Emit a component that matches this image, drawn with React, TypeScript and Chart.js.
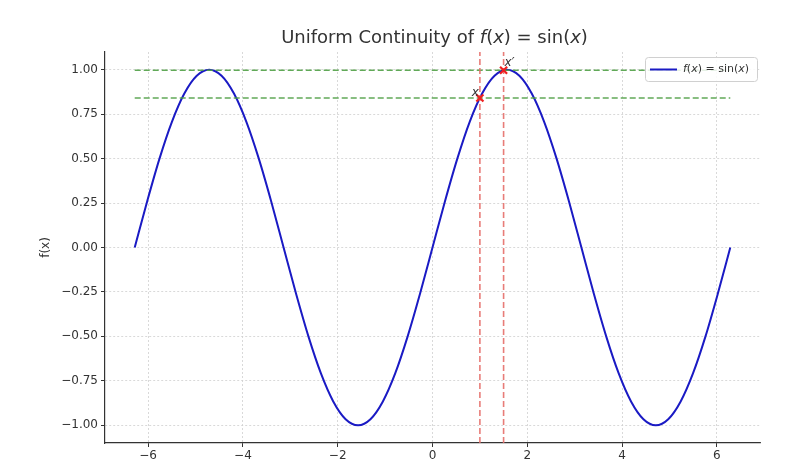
import React, { useEffect, useRef } from "react";
import { Chart, registerables } from "chart.js";

Chart.register(...registerables);

const xValues = [
  -6.283, -6.021, -5.760, -5.498, -5.236, -4.974, -4.712, -4.451, -4.189, -3.927, -3.665, -3.403,
  -3.142, -2.880, -2.618, -2.356, -2.094, -1.833, -1.571, -1.309, -1.047, -0.785, -0.524, -0.262,
  0.0,
  0.262, 0.524, 0.785, 1.047, 1.309, 1.571, 1.833, 2.094, 2.356, 2.618, 2.880, 3.142,
  3.403, 3.665, 3.927, 4.189, 4.451, 4.712, 4.974, 5.236, 5.498, 5.760, 6.021, 6.283,
];
const sineValues = [
  0.0, 0.259, 0.5, 0.707, 0.866, 0.966, 1.0, 0.966, 0.866, 0.707, 0.5, 0.259,
  0.0, -0.259, -0.5, -0.707, -0.866, -0.966, -1.0, -0.966, -0.866, -0.707, -0.5, -0.259,
  0.0,
  0.259, 0.5, 0.707, 0.866, 0.966, 1.0, 0.966, 0.866, 0.707, 0.5, 0.259, 0.0,
  -0.259, -0.5, -0.707, -0.866, -0.966, -1.0, -0.966, -0.866, -0.707, -0.5, -0.259, 0.0,
];
const markedX = [1.0, 1.5];
const markedY = [0.841, 0.997];
const markedLabels = ["x", "x′"];
const hLineSpan = [-6.283, 6.283];
const xTickValues = [-6, -4, -2, 0, 2, 4, 6];
const yTickValues = [-1, -0.75, -0.5, -0.25, 0, 0.25, 0.5, 0.75, 1];
const xRange = [-6.91, 6.91];
const yRange = [-1.1, 1.1];

const FONT = "'DejaVu Sans', sans-serif";
const minus = (s: string) => s.replace("-", "\u2212");

function drawMixed(ctx: CanvasRenderingContext2D, parts: [string, boolean][], size: number, cx: number, cy: number, align: "center" | "left") {
  ctx.save();
  ctx.textBaseline = "middle";
  ctx.textAlign = "left";
  const fontFor = (it: boolean) => `${it ? "italic " : ""}${size}px ${FONT}`;
  let total = 0;
  for (const [t, it] of parts) {
    ctx.font = fontFor(it);
    total += ctx.measureText(t).width;
  }
  let x = align === "center" ? cx - total / 2 : cx;
  for (const [t, it] of parts) {
    ctx.font = fontFor(it);
    ctx.fillText(t, x, cy);
    x += ctx.measureText(t).width;
  }
  ctx.restore();
}

const overlayPlugin = {
  id: "overlay",
  afterDraw(chart: any) {
    const ctx: CanvasRenderingContext2D = chart.ctx;
    const area = chart.chartArea;
    const xs = chart.scales.x;
    const ys = chart.scales.y;
    // Title
    ctx.fillStyle = "#333";
    drawMixed(
      ctx,
      [["Uniform Continuity of ", false], ["f", true], ["(", false], ["x", true], [") = sin(", false], ["x", true], [")", false]],
      18,
      (area.left + area.right) / 2 + 2,
      38,
      "center"
    );
    // Point labels
    ctx.save();
    ctx.fillStyle = "#333";
    ctx.font = `italic 12px ${FONT}`;
    ctx.textBaseline = "bottom";
    ctx.textAlign = "right";
    ctx.fillText(markedLabels[0], xs.getPixelForValue(markedX[0]) - 1, ys.getPixelForValue(markedY[0]) + 1);
    ctx.textAlign = "left";
    ctx.fillText(markedLabels[1], xs.getPixelForValue(markedX[1]) + 1, ys.getPixelForValue(markedY[1]) - 1);
    ctx.restore();
    // Legend
    const lx = 645, ly = 57, lw = 112, lh = 24;
    ctx.save();
    ctx.fillStyle = "rgba(255,255,255,0.85)";
    ctx.strokeStyle = "#d0d0d0";
    ctx.lineWidth = 1;
    ctx.beginPath();
    (ctx as any).roundRect(lx + 0.5, ly + 0.5, lw, lh, 3);
    ctx.fill();
    ctx.stroke();
    ctx.strokeStyle = "#1a1ac4";
    ctx.lineWidth = 2;
    ctx.beginPath();
    ctx.moveTo(lx + 5, ly + 12.5);
    ctx.lineTo(lx + 32, ly + 12.5);
    ctx.stroke();
    ctx.fillStyle = "#333";
    drawMixed(
      ctx,
      [["f", true], ["(", false], ["x", true], [") = sin(", false], ["x", true], [")", false]],
      11,
      lx + 38,
      ly + 12.5,
      "left"
    );
    ctx.restore();
  },
};

export default function App() {
  const ref = useRef<HTMLCanvasElement>(null);
  useEffect(() => {
    document.body.style.margin = "0";
    const sine = xValues.map((x, i) => ({ x, y: sineValues[i] }));
    const vLines = markedX.map((x) => ({
      data: [{ x, y: yRange[0] }, { x, y: yRange[1] }],
      showLine: true,
      borderColor: "rgba(230,110,105,0.9)",
      borderWidth: 1.6,
      borderDash: [6, 3],
      pointRadius: 0,
      order: 2,
    }));
    const hLines = markedY.map((y) => ({
      data: [{ x: hLineSpan[0], y }, { x: hLineSpan[1], y }],
      showLine: true,
      borderColor: "rgba(80,160,70,0.9)",
      borderWidth: 1.6,
      borderDash: [6, 3],
      pointRadius: 0,
      order: 2,
    }));
    const chart = new Chart(ref.current!, {
      type: "scatter",
      data: {
        datasets: [
          {
            data: markedX.map((x, i) => ({ x, y: markedY[i] })),
            pointStyle: "crossRot",
            pointRadius: 5,
            borderColor: "#ee2020",
            backgroundColor: "#ee2020",
            pointBorderWidth: 2.2,
            order: 0,
          } as any,
          {
            data: sine,
            showLine: true,
            borderColor: "#1a1ac4",
            borderWidth: 2,
            pointRadius: 0,
            cubicInterpolationMode: "monotone",
            order: 3,
          },
          ...vLines,
          ...hLines,
        ],
      },
      options: {
        animation: false,
        responsive: false,
        events: [],
        layout: { padding: { left: 39, right: 40, top: 52, bottom: 0 } },
        plugins: { legend: { display: false }, tooltip: { enabled: false }, title: { display: false } },
        scales: {
          x: {
            type: "linear",
            min: xRange[0],
            max: xRange[1],
            afterBuildTicks: (s: any) => {
              s.ticks = xTickValues.map((v) => ({ value: v }));
            },
            afterFit: (s: any) => {
              s.height = 23;
            },
            ticks: {
              color: "#333",
              font: { family: FONT, size: 12 },
              padding: 2,
              maxRotation: 0,
              callback: (v: any) => minus(String(v)),
            },
            grid: {
              color: "#d0d0d0",
              lineWidth: 0.8,
              tickColor: "#333",
              tickLength: 4,
              tickWidth: 1,
            },
            border: { display: true, color: "#333", width: 1.2, dash: [2, 2] },
          },
          y: {
            type: "linear",
            min: yRange[0],
            max: yRange[1],
            afterBuildTicks: (s: any) => {
              s.ticks = yTickValues.map((v) => ({ value: v }));
            },
            afterFit: (s: any) => {
              s.width = 66;
            },
            title: { display: true, text: "f(x)", color: "#333", font: { family: FONT, size: 12 }, padding: 0 },
            ticks: {
              color: "#333",
              font: { family: FONT, size: 12 },
              padding: 3,
              callback: (v: any) => minus(Number(v).toFixed(2)),
            },
            grid: {
              color: "#d0d0d0",
              lineWidth: 0.8,
              tickColor: "#333",
              tickLength: 4,
              tickWidth: 1,
            },
            border: { display: true, color: "#333", width: 1.2, dash: [2, 2] },
          },
        },
      },
      plugins: [overlayPlugin],
    } as any);
    return () => chart.destroy();
  }, []);
  return (
    <div style={{ width: 800, height: 466 }}>
      <canvas ref={ref} width={800} height={466} style={{ display: "block" }} />
    </div>
  );
}
